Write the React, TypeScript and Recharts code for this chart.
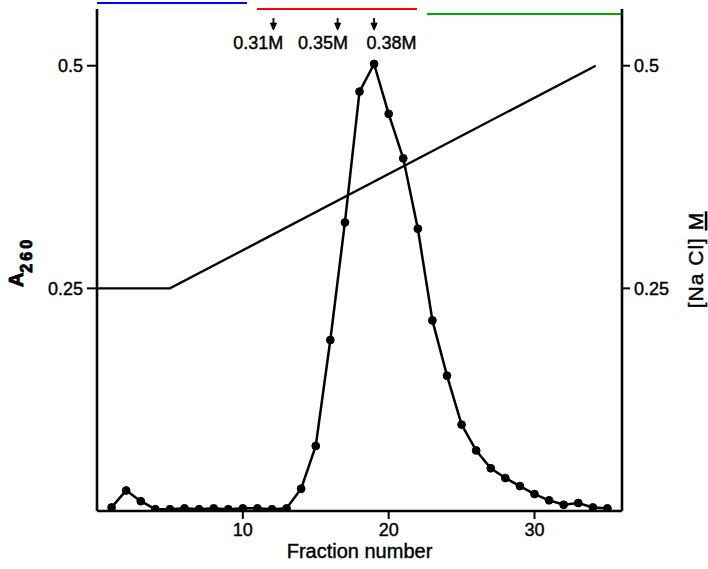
import React from 'react';
import { LineChart, Line, XAxis, YAxis, ReferenceDot } from 'recharts';

const fractions = [1, 2, 3, 4, 5, 6, 7, 8, 9, 10, 11, 12, 13, 14, 15, 16, 17, 18, 19, 20, 21, 22, 23, 24, 25, 26, 27, 28, 29, 30, 31, 32, 33, 34, 35];
const a260 = [0.004, 0.023, 0.011, 0.002, 0.002, 0.003, 0.002, 0.003, 0.002, 0.003, 0.003, 0.002, 0.003, 0.025, 0.073, 0.192, 0.324, 0.471, 0.502, 0.446, 0.396, 0.317, 0.214, 0.152, 0.097, 0.068, 0.048, 0.037, 0.028, 0.019, 0.012, 0.007, 0.009, 0.004, 0.003];

const saltFractions = [0, 5, 34.2];
const saltMolar = [0.25, 0.25, 0.5];

const xTicks = [10, 20, 30];
const yTicks = [0.25, 0.5];
const yTickLabels = ['0.25', '0.5'];

const arrowFractions = [12.1, 16.5, 19];
const arrowLabelFractions = [11.05, 15.5, 20.2];
const arrowLabels = ['0.31M', '0.35M', '0.38M'];

const peakData = fractions.map((f, i) => ({ fraction: f, a260: a260[i] }));
const saltData = saltFractions.map((f, i) => ({ fraction: f, nacl: saltMolar[i] }));

const FONT = '"Liberation Sans", Arial, sans-serif';
const MARGIN_TOP = 9;
const X_DOMAIN: [number, number] = [0, 36];
const Y_DOMAIN: [number, number] = [0, 0.5637];
const ARROW_TIP_LEVEL = 0.540;
const LABEL_LEVEL = 0.5255;

const fmtY = (v: number) => yTickLabels[yTicks.indexOf(v)] ?? String(v);

const Arrow = (props: any) => {
  const { cx, cy } = props;
  if (cx == null || cy == null) return <g />;
  return (
    <g>
      <line x1={cx} y1={cy - 12} x2={cx} y2={cy - 5} stroke="#000" strokeWidth={1.8} />
      <path d={`M ${cx - 3} ${cy - 7} L ${cx + 3} ${cy - 7} L ${cx} ${cy} Z`} fill="#000" stroke="#000" strokeWidth={1} />
    </g>
  );
};

const makeLabel = (text: string) => (props: any) => {
  const { cx, cy } = props;
  if (cx == null || cy == null) return <g />;
  return (
    <text x={cx} y={cy} dy="0.36em" textAnchor="middle" fontSize={18} fontFamily={FONT} fill="#000" stroke="#000" strokeWidth={0.4}>
      {text}
    </text>
  );
};

const LeftLabel = (props: any) => {
  const vb = props.viewBox || { x: 0, y: 9, width: 97, height: 502 };
  const cx = vb.x + 23;
  const cy = vb.y + 253;
  return (
    <text transform={`rotate(-90, ${cx}, ${cy})`} x={cx} y={cy} textAnchor="middle" fontFamily={FONT} fontWeight={700} fontSize={20} fill="#000" stroke="#000" strokeWidth={0.9}>
      A
      <tspan dy={9} fontSize={16} letterSpacing={3}>260</tspan>
    </text>
  );
};

const RightLabel = (props: any) => {
  const vb = props.viewBox || { x: 622, y: 9, width: 86, height: 502 };
  const cx = vb.x + 81;
  const cy = vb.y + 251;
  return (
    <text transform={`rotate(-90, ${cx}, ${cy})`} x={cx} y={cy} textAnchor="middle" fontFamily={FONT} fontSize={21} letterSpacing={1} fill="#000" stroke="#000" strokeWidth={0.4}>
      [Na Cl]{' '}
      <tspan textDecoration="underline" style={{ textDecoration: 'underline' }}>M</tspan>
    </text>
  );
};

const BottomLabel = (props: any) => {
  const vb = props.viewBox || { x: 97, y: 511, width: 525, height: 58 };
  return (
    <g>
      <line x1={vb.x} y1={3} x2={vb.x + 150} y2={3} stroke="#00f" strokeWidth={2} />
      <line x1={vb.x + 160} y1={MARGIN_TOP} x2={vb.x + 320} y2={MARGIN_TOP} stroke="#f00" strokeWidth={2} />
      <line x1={vb.x + 330} y1={14} x2={vb.x + vb.width} y2={14} stroke="#0a0" strokeWidth={2} />
      <text x={vb.x + vb.width / 2} y={vb.y + 47} textAnchor="middle" fontFamily={FONT} fontSize={20} fill="#000" stroke="#000" strokeWidth={0.4}>
        Fraction number
      </text>
    </g>
  );
};

export default function App() {
  const axisStroke = { stroke: '#000', strokeWidth: 2.6 };
  const tickStroke = { stroke: '#000', strokeWidth: 2 };
  const tickFont = { fill: '#000', fontSize: 18, fontFamily: FONT, stroke: '#000', strokeWidth: 0.4 };
  return (
    <div style={{ position: 'absolute', left: 0, top: 0, width: 708, height: 569, background: '#fff' }}>
      <LineChart width={708} height={569} margin={{ top: MARGIN_TOP, right: 0, bottom: 0, left: 0 }}>
        <XAxis
          xAxisId="bottom"
          dataKey="fraction"
          type="number"
          domain={X_DOMAIN}
          ticks={xTicks}
          allowDataOverflow
          height={58}
          axisLine={axisStroke}
          tickLine={tickStroke}
          tickSize={8}
          tickMargin={4}
          tick={tickFont}
          label={<BottomLabel />}
        />
        <YAxis
          yAxisId="left"
          type="number"
          domain={Y_DOMAIN}
          ticks={yTicks}
          allowDataOverflow
          width={97}
          axisLine={axisStroke}
          tickLine={tickStroke}
          tickSize={10}
          tickMargin={4}
          tick={tickFont}
          tickFormatter={fmtY}
          label={<LeftLabel />}
        />
        <YAxis
          yAxisId="right"
          orientation="right"
          type="number"
          domain={Y_DOMAIN}
          ticks={yTicks}
          allowDataOverflow
          width={86}
          axisLine={axisStroke}
          tickLine={tickStroke}
          tickSize={8}
          tickMargin={4}
          tick={tickFont}
          tickFormatter={fmtY}
          label={<RightLabel />}
        />
        <Line
          xAxisId="bottom"
          yAxisId="right"
          data={saltData}
          dataKey="nacl"
          type="linear"
          stroke="#000"
          strokeWidth={2.3}
          dot={false}
          activeDot={false}
          isAnimationActive={false}
        />
        <Line
          xAxisId="bottom"
          yAxisId="left"
          data={peakData}
          dataKey="a260"
          type="linear"
          stroke="#000"
          strokeWidth={2.5}
          dot={{ r: 3.9, fill: '#000', stroke: '#000', strokeWidth: 1 }}
          activeDot={false}
          isAnimationActive={false}
        />
        {arrowFractions.map((f, i) => (
          <ReferenceDot
            key={`arrow-${i}`}
            xAxisId="bottom"
            yAxisId="left"
            x={f}
            y={ARROW_TIP_LEVEL}
            r={0}
            shape={Arrow}
          />
        ))}
        {arrowLabelFractions.map((f, i) => (
          <ReferenceDot
            key={`label-${i}`}
            xAxisId="bottom"
            yAxisId="left"
            x={f}
            y={LABEL_LEVEL}
            r={0}
            shape={makeLabel(arrowLabels[i])}
          />
        ))}
      </LineChart>
    </div>
  );
}
